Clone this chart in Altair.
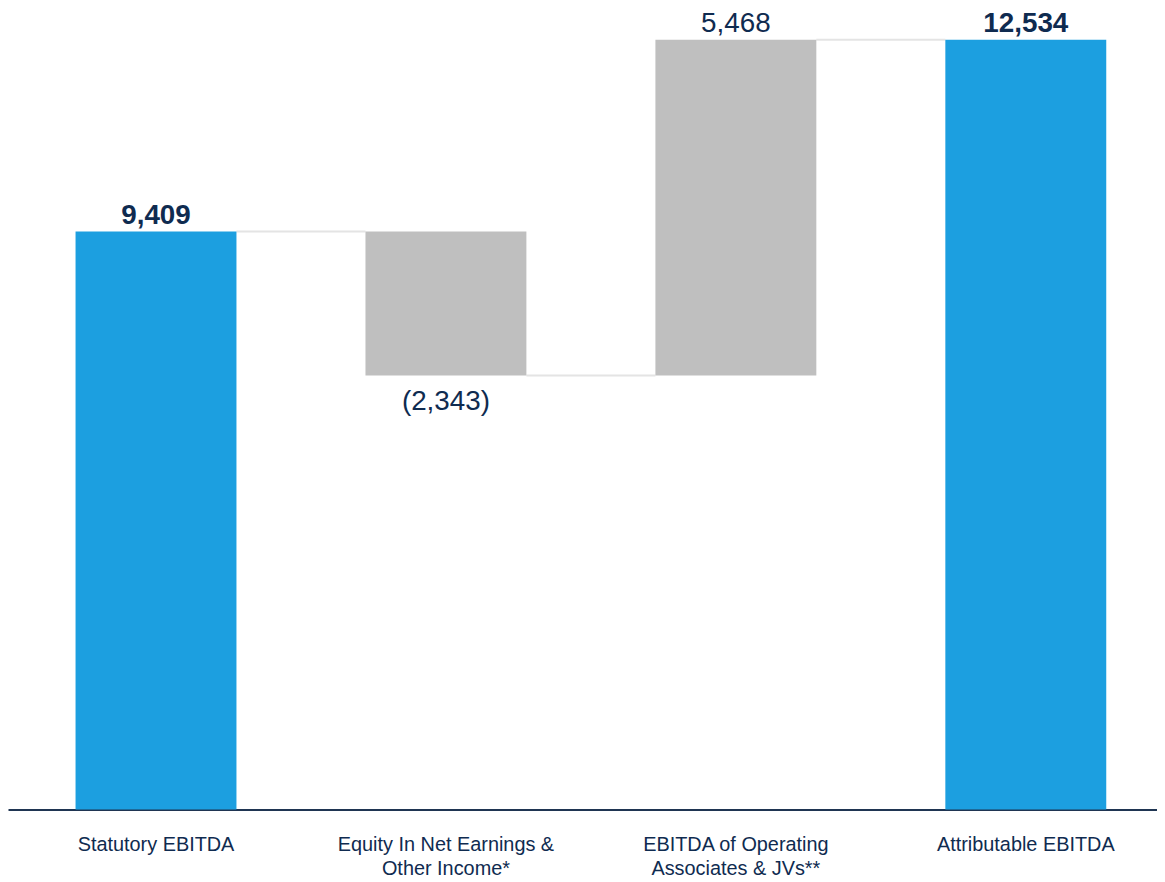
import altair as alt
import pandas as pd

# Data
categories = [
    "Statutory EBITDA",
    "Equity In Net Earnings & Other Income*",
    "EBITDA of Operating Associates & JVs**",
    "Attributable EBITDA",
]
tick_labels = [
    "Statutory EBITDA",
    "Equity In Net Earnings &|Other Income*",
    "EBITDA of Operating|Associates & JVs**",
    "Attributable EBITDA",
]
values = [9409, -2343, 5468, 12534]
kinds = ["total", "delta", "delta", "total"]

BLUE = "#1C9FE0"
GRAY = "#BFBFBF"
NAVY = "#0F2B50"
FONT = "Liberation Sans"

rows = []
running = 0
for i, (c, v, k) in enumerate(zip(categories, values, kinds)):
    if k == "total":
        start, end = 0, v
    else:
        start, end = running, running + v
    running = end
    label = f"{abs(v):,}" if v >= 0 else f"({abs(v):,})"
    rows.append(
        dict(
            cat=c,
            tick=tick_labels[i],
            v0=start,
            v1=end,
            vtop=max(start, end),
            vbot=min(start, end),
            vzero=0,
            label=label,
            kind=k,
            sign="neg" if v < 0 else "pos",
            has_next=i + 1 < len(categories),
        )
    )
df = pd.DataFrame(rows)
df_conn = df[df["has_next"]].drop(columns=["has_next"]).reset_index(drop=True)
df = df.drop(columns=["has_next"])
df_tot = df[df["kind"] == "total"].reset_index(drop=True)
df_pos = df[(df["kind"] == "delta") & (df["sign"] == "pos")].reset_index(drop=True)
df_neg = df[(df["kind"] == "delta") & (df["sign"] == "neg")].reset_index(drop=True)

xscale = alt.Scale(domain=categories, paddingInner=0.445, paddingOuter=0.204, align=0.571)
yscale = alt.Scale(domain=[0, 13000], nice=False, zero=True)

xaxis = alt.Axis(
    labels=False,
    ticks=False,
    domainColor="#1F3552",
    domainWidth=2,
    grid=False,
    title=None,
)


def X():
    return alt.X("cat:N", scale=xscale, axis=xaxis, title=None)


def Y(field):
    return alt.Y(field, scale=yscale, axis=None)


connectors = alt.Chart(df_conn).mark_tick(
    color="#D9D9D9", thickness=2, size=130, xOffset=146, orient="horizontal"
).encode(
    x=X(),
    y=Y("v1:Q"),
)

bars = alt.Chart(df).mark_bar().encode(
    x=X(),
    y=Y("v0:Q"),
    y2="v1:Q",
    color=alt.Color(
        "kind:N",
        scale=alt.Scale(domain=["total", "delta"], range=[BLUE, GRAY]),
        legend=None,
    ),
)

cat_labels = alt.Chart(df).mark_text(
    font=FONT, fontSize=20, color=NAVY, baseline="top", dy=26, lineBreak="|", lineHeight=24
).encode(x=X(), y=Y("vzero:Q"), text="tick:N")

tot_labels = alt.Chart(df_tot).mark_text(
    font=FONT, fontSize=28, fontWeight="bold", color=NAVY, dy=-8, baseline="alphabetic"
).encode(x=X(), y=Y("vtop:Q"), text="label:N")

pos_labels = alt.Chart(df_pos).mark_text(
    font=FONT, fontSize=28, color=NAVY, dy=-8, baseline="alphabetic"
).encode(x=X(), y=Y("vtop:Q"), text="label:N")

neg_labels = alt.Chart(df_neg).mark_text(
    font=FONT, fontSize=28, color=NAVY, dy=35, baseline="alphabetic"
).encode(x=X(), y=Y("vbot:Q"), text="label:N")

chart = (
    alt.layer(connectors, bars, cat_labels, tot_labels, pos_labels, neg_labels)
    .properties(
        width=1157,
        height=874,
        padding=0,
        autosize=alt.AutoSizeParams(type="fit", contains="padding"),
    )
    .configure_view(strokeWidth=0)
)

chart.save("out.html", embed_options={"renderer": "svg", "actions": False})
